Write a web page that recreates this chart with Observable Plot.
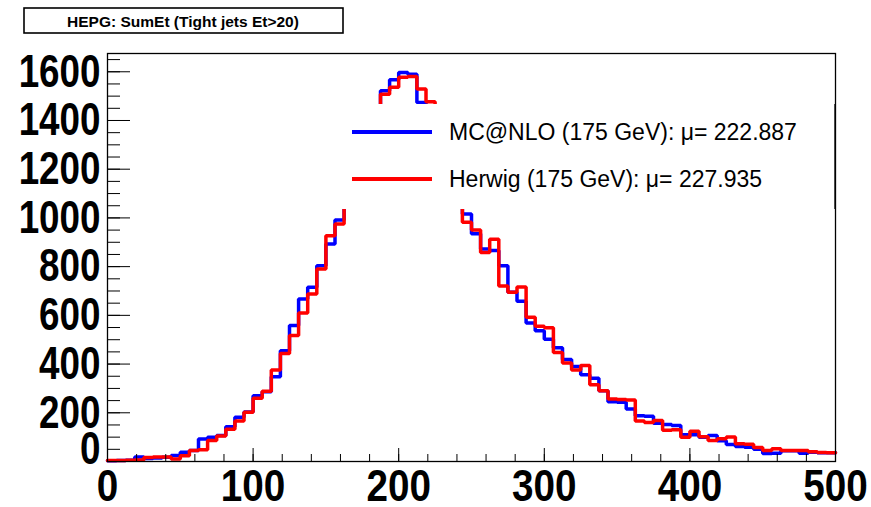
<!DOCTYPE html>
<html><head><meta charset="utf-8">
<script src="https://cdn.jsdelivr.net/npm/d3@7"></script>
<script src="https://cdn.jsdelivr.net/npm/@observablehq/plot@0.6"></script>
<style>
html,body{margin:0;padding:0;background:#fff;}
#chart{position:relative;width:871px;height:507px;}
</style></head><body><div id="chart"></div>
<script>
// Histogram binning (x axis: SumEt)
const xMin = 0, xMax = 500, nBins = 80;
// MC@NLO (blue) bin contents
const mcnlo = [3,4,5,18,12,14,17,25,38,45, 92,100,107,143,182,203,270,286,348,455,
  558,667,715,804,893,991,1090,1190,1300,1420, 1522,1567,1597,1590,1474,1460,1380,1260,1120,1016,
  935,872,866,804,695,658,569,537,502,467, 419,390,356,342,290,245,243,216,188,186,
  157,152,148,110,110,100,107,85,70,62, 59,50,33,34,44,44,34,38,36,36];
// Herwig (red) bin contents
const herwig = [4,4,5,6,16,18,18,10,24,45, 48,86,105,132,166,202,260,288,376,443,
  517,610,688,790,927,975,1070,1180,1290,1400, 1508,1536,1577,1581,1529,1477,1390,1250,1130,982,
  950,858,912,720,695,716,592,555,549,448, 404,376,394,315,290,257,255,252,166,160,
  168,128,130,100,124,102,86,93,101,73, 71,57,45,52,45,45,45,40,37,36];
const seriesNames = ["MC@NLO (175 GeV): \u03BC= 222.887", "Herwig (175 GeV): \u03BC= 227.935"];
const seriesColors = ["#0000ff", "#ff0000"];
const titleText = "HEPG: SumEt (Tight jets Et>20)";
const xTicks = [0,100,200,300,400,500];
const xMinor = [0,20,40,60,80,100,120,140,160,180,200,220,240,260,280,300,320,340,360,380,400,420,440,460,480,500];
const yTicks = [0,200,400,600,800,1000,1200,1400,1600];
const yMinor = [0,50,100,150,200,250,300,350,400,450,500,550,600,650,700,750,800,850,900,950,1000,1050,1100,1150,1200,1250,1300,1350,1400,1450,1500,1550,1600,1650];

const bw = (xMax - xMin) / nBins;
function steps(vals){
  const pts = vals.map((v,i)=>({x: xMin + i*bw, y: v}));
  pts.push({x: xMax, y: vals[vals.length-1]});
  return pts;
}
const font = "'Liberation Sans', Arial, Helvetica, sans-serif";
const plain = d => String(d);
const plot = Plot.plot({
  width: 871, height: 507,
  marginLeft: 107, marginRight: 36, marginTop: 53, marginBottom: 46,
  x: {domain: [xMin, xMax]},
  y: {domain: [0, 1675]},
  style: {background: "white", fontFamily: font, color: "black", overflow: "visible"},
  marks: [
    Plot.line(steps(mcnlo), {x: "x", y: "y", curve: "step-after", stroke: seriesColors[0], strokeWidth: 3.5, strokeLinejoin: "miter"}),
    Plot.line(steps(herwig), {x: "x", y: "y", curve: "step-after", stroke: seriesColors[1], strokeWidth: 3.5, strokeLinejoin: "miter"}),
    Plot.axisY({ticks: yMinor, tickSize: -13, fill: "none", label: null, stroke: "black"}),
    Plot.axisY({ticks: yTicks, tickSize: -23, fill: "none", label: null, stroke: "black"}),
    Plot.axisY({ticks: yTicks, tickSize: 0, tickPadding: 7, tickFormat: plain, label: null, fontSize: 46, fontWeight: "bold", fill: "black"}),
    Plot.axisX({ticks: xMinor, tickSize: -7, fill: "none", label: null, stroke: "black"}),
    Plot.axisX({ticks: xTicks, tickSize: -13, fill: "none", label: null, stroke: "black"}),
    Plot.axisX({ticks: xTicks, tickSize: 0, tickPadding: 8, tickFormat: plain, label: null, fontSize: 45, fontWeight: "bold", fill: "black"}),
    Plot.frame({stroke: "black", strokeWidth: 1.3})
  ]
});
document.getElementById("chart").append(plot);
const svg = d3.select(plot);

// condense big ROOT-style tick labels
function condense(sel, anchor, s){
  sel.each(function(){
    const b = this.getBBox();
    const px = anchor === "end" ? b.x + b.width : b.x + b.width/2;
    const t = d3.select(this);
    t.attr("transform", (t.attr("transform") || "") + ` translate(${px},0) scale(${s},1) translate(${-px},0)`);
  });
}
const yLab = svg.selectAll('g[aria-label="y-axis tick label"] text');
condense(yLab, "end", 0.8);
yLab.each(function(){ const t = d3.select(this); if (t.text() === "0") t.attr("transform", "translate(0,-12) " + t.attr("transform")); });
condense(svg.selectAll('g[aria-label="x-axis tick label"] text'), "middle", 0.86);

// legend (white box over the plot, like ROOT TLegend)
const lg = svg.append("g").attr("text-anchor", "start");
lg.append("rect").attr("x", 340).attr("y", 104).attr("width", 494).attr("height", 105).attr("fill", "white");
seriesNames.forEach((name, i) => {
  const yy = 132 + i*47;
  lg.append("line").attr("x1", 352).attr("x2", 432).attr("y1", yy).attr("y2", yy)
    .attr("stroke", seriesColors[i]).attr("stroke-width", 4);
  lg.append("text").attr("x", 449).attr("y", yy).attr("dominant-baseline", "central").attr("text-anchor", "start")
    .attr("font-family", font).attr("font-size", 23).attr("fill", "black").text(name);
});
// frame right edge over legend box
svg.append("line").attr("x1", 835).attr("x2", 835).attr("y1", 104).attr("y2", 209).attr("stroke", "black").attr("stroke-width", 1.3);

// title box
const tg = svg.append("g");
tg.append("rect").attr("x", 24).attr("y", 8).attr("width", 319).attr("height", 25)
  .attr("fill", "white").attr("stroke", "black").attr("stroke-width", 1.6);
tg.append("text").attr("x", 183).attr("y", 21).attr("text-anchor", "middle").attr("dominant-baseline", "central")
  .attr("font-family", font).attr("font-weight", "bold").attr("font-size", 15.5).attr("fill", "black").text(titleText);
</script></body></html>
